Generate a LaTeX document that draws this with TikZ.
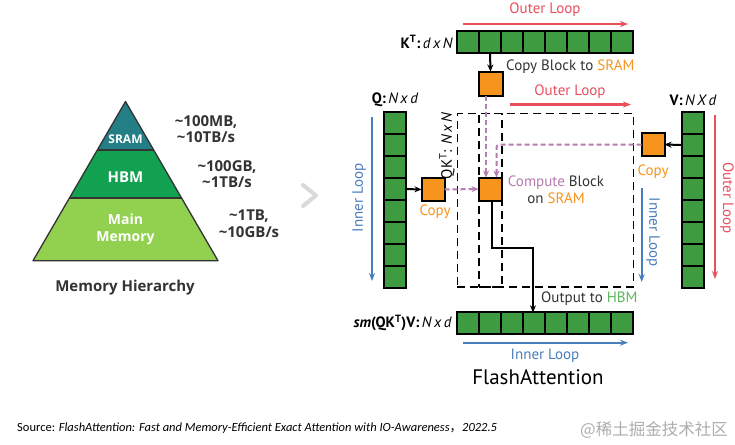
\documentclass[tikz,border=0pt]{standalone}
\usepackage{fontspec}
\setmainfont{Open Sans}
\newfontfamily\pts{PT Sans}
\newfontfamily\carl{Carlito}
\newfontfamily\cjk{Noto Sans CJK SC}
\usetikzlibrary{arrows.meta}
\definecolor{cellgreen}{HTML}{3E9B40}
\definecolor{orng}{HTML}{F7941D}
\definecolor{loopred}{HTML}{E8505E}
\definecolor{loopblue}{HTML}{4A7EBB}
\definecolor{pinkc}{HTML}{B87BB1}
\definecolor{hbmtext}{HTML}{5BB75B}
\definecolor{sramc}{HTML}{237E85}
\definecolor{hbmc}{HTML}{12A150}
\definecolor{mainc}{HTML}{92D050}
\definecolor{darktext}{HTML}{333333}
\definecolor{chev}{HTML}{D9D9D9}
\begin{document}
\begin{tikzpicture}[x=1pt,y=-1pt,
  cell/.style={draw=black, line width=2pt, fill=cellgreen, minimum size=22pt, inner sep=0pt, outer sep=0pt},
  osq/.style={draw=black, line width=2pt, fill=orng, minimum size=23pt, inner sep=0pt, outer sep=0pt},
  dashbox/.style={draw=black, line width=1.6pt, dash pattern=on 8pt off 5pt, inner sep=0pt, outer sep=0pt},
  blkarrow/.style={draw=black, line width=2pt, -{Stealth[length=7pt,width=6pt]}},
  pinkarrow/.style={draw=pinkc, line width=2pt, dash pattern=on 5pt off 3pt, -{Stealth[length=7pt,width=6pt]}},
  redarrow/.style={draw=loopred, line width=2.2pt, -{Stealth[length=8pt,width=6pt]}},
  bluearrow/.style={draw=loopblue, line width=2.2pt, -{Stealth[length=8pt,width=6pt]}},
  ftxt/.style={font=\pts\fontsize{15}{17}\selectfont, inner sep=0pt},
  ptxt/.style={font=\bfseries\fontsize{13.5}{16}\selectfont, text=white, inner sep=0pt, align=center},
  mtxt/.style={font=\bfseries\fontsize{15}{16.5}\selectfont, text=darktext, inner sep=0pt, align=center}
]
\useasboundingbox (0,0) rectangle (735,444);
\fill[white] (0,0) rectangle (735,444);

% ---------- pyramid ----------
\coordinate (apex) at (125.5,101.5);
\coordinate (bl) at (33,260.7);
\coordinate (br) at (218,260.7);
\coordinate (s1l) at (97.3,150);
\coordinate (s1r) at (153.7,150);
\coordinate (s2l) at (69.5,198);
\coordinate (s2r) at (181.5,198);
\fill[sramc] (apex) -- (s1r) -- (s1l) -- cycle;
\fill[hbmc] (s1l) -- (s1r) -- (s2r) -- (s2l) -- cycle;
\fill[mainc] (s2l) -- (s2r) -- (br) -- (bl) -- cycle;
\draw[line width=1.3pt, darktext, line join=round] (apex) -- (br) -- (bl) -- cycle;
\draw[line width=1.3pt, darktext] (s1l) -- (s1r) (s2l) -- (s2r);
\node[ptxt, font=\bfseries\fontsize{12}{14}\selectfont] (tsram) at (125.5,139) {SRAM};
\node[ptxt, font=\bfseries\fontsize{15}{17}\selectfont] (thbm) at (125.5,177.5) {HBM};
\node[ptxt, font=\bfseries\fontsize{14}{16.5}\selectfont] (tmain) at (125.5,229.5) {Main\\Memory};
\node[mtxt] (l1) at (206,129) {\textasciitilde100MB,\\\textasciitilde10TB/s};
\node[mtxt] (l2) at (227,174) {\textasciitilde100GB,\\\textasciitilde1TB/s};
\node[mtxt] (l3) at (249,223.5) {\textasciitilde1TB,\\\textasciitilde10GB/s};
\node[mtxt] (mh) at (125,288) {Memory Hierarchy};

% chevron
\draw[chev, line width=4pt, line cap=round, line join=round] (303,185) -- (316,195.5) -- (303,206);

% ---------- dashed boxes ----------
\node[dashbox, minimum width=176pt, minimum height=173.4pt] (bigbox) at (545.3,200) {};
\node[dashbox, minimum width=23pt, minimum height=173.4pt] (colbox) at (490.5,200) {};

% ---------- K^T row ----------
\foreach \i in {1,...,8} {
  \node[cell] (k\i) at ({457+11+22*(\i-1)},42) {};
}
\node[ftxt, anchor=east] (klab) at (453,42) {\textbf{K\textsuperscript{T}:}\,\textit{d\,x\,N}};
\coordinate (ol1s) at (463,24);
\coordinate (ol1e) at (628,24);
\draw[redarrow] (ol1s) -- (ol1e);
\node[ftxt, text=loopred] (ol1t) at (545,10) {Outer Loop};

\node[osq, minimum size=24pt] (kc) at (490.5,83.5) {};
\draw[blkarrow] (k2.south) -- (kc.north);
\node[ftxt, anchor=west] (cbs) at (506,66.5) {\textcolor{darktext}{Copy Block to }\textcolor{orng}{SRAM}};

\coordinate (ol2s) at (510,104.5);
\coordinate (ol2e) at (631,104.5);
\draw[redarrow] (ol2s) -- (ol2e);
\node[ftxt, text=loopred] (ol2t) at (570,91.5) {Outer Loop};

% ---------- Q column ----------
\foreach \i in {1,...,8} {
  \node[cell] (q\i) at (394.5,{123+22*(\i-1)}) {};
}
\node[ftxt] (qlab) at (395,100) {\textbf{Q:}\,\textit{N\,x\,d}};
\coordinate (il1s) at (372,117);
\coordinate (il1e) at (372,281);
\draw[bluearrow] (il1s) -- (il1e);
\node[ftxt, text=loopblue, rotate=90] (il1t) at (359,198) {Inner Loop};
\node[osq] (qc) at (433,189.5) {};
\draw[blkarrow] (q4.east) -- (qc.west);
\node[ftxt, text=orng] (qct) at (435,211.5) {Copy};
\node[ftxt, rotate=90] (qkt) at (447,146) {QK\textsuperscript{T}: \textit{N\,x\,N}};

% ---------- compute block ----------
\node[osq] (comp) at (490,189) {};
\draw[pinkarrow] (qc.east) -- (comp.west);
\draw[pinkarrow] ([xshift=-4.5pt]kc.south) -- ([xshift=-4pt]comp.north);
\node[ftxt, align=center] (ct) at (556,189.5) {\textcolor{pinkc}{Compute} \textcolor{darktext}{Block}\\[0pt]\textcolor{darktext}{on }\textcolor{orng}{SRAM}};

% ---------- V column ----------
\foreach \i in {1,...,8} {
  \node[cell] (v\i) at (692.5,{123+22*(\i-1)}) {};
}
\node[ftxt] (vlab) at (693,100) {\textbf{V:}\,\textit{N\,X\,d}};
\node[osq] (vc) at (653,144.5) {};
\draw[blkarrow] (v2.west) -- (vc.east);
\node[ftxt, text=orng] (vct) at (653,171.5) {Copy};
\draw[pinkarrow, rounded corners=3pt] (vc.west) -| ([xshift=6.5pt]comp.north);
\coordinate (ol3s) at (715,115);
\coordinate (ol3e) at (715,279);
\draw[redarrow] (ol3s) -- (ol3e);
\node[ftxt, text=loopred, rotate=-90] (ol3t) at (727,198) {Outer Loop};
\coordinate (il2s) at (641.7,188);
\coordinate (il2e) at (641.7,282);
\draw[bluearrow] (il2s) -- (il2e);
\node[ftxt, text=loopblue, rotate=-90] (il2t) at (653,232) {Inner Loop};

% ---------- output row ----------
\foreach \i in {1,...,8} {
  \node[cell] (o\i) at ({457+11+22*(\i-1)},323.3) {};
}
\node[ftxt, anchor=east] (olab) at (452,323.3) {\textbf{\textit{sm}(QK\textsuperscript{T})V:}\,\textit{N\,x\,d}};
\coordinate (turn) at (533,248.3);
\draw[blkarrow] ([xshift=1.5pt]comp.south) -- ([xshift=1.5pt]comp.south |- turn) -- (turn) -- (turn |- o4.north);
\node[ftxt, anchor=west] (oth) at (541,299) {\textcolor{darktext}{Output to }\textcolor{hbmtext}{HBM}};
\coordinate (il3s) at (463,342.7);
\coordinate (il3e) at (628,342.7);
\draw[bluearrow] (il3s) -- (il3e);
\node[ftxt, text=loopblue] (il3t) at (545,356) {Inner Loop};
\node[ftxt, font=\pts\fontsize{21}{24}\selectfont] (fa) at (538,377) {FlashAttention};

% ---------- footer ----------
\node[inner sep=0pt, anchor=west, font=\carl\fontsize{12.5}{14}\selectfont] (src) at (17,428) {Source: \textit{FlashAttention: Fast and Memory-Efficient Exact Attention with IO-Awareness}{\cjk ，}\textit{2022.5}};
\node[inner sep=0pt, anchor=east, text=black!32, font=\cjk\fontsize{16.5}{18}\selectfont] (wm) at (728,430) {@稀土掘金技术社区};
\end{tikzpicture}
\end{document}
